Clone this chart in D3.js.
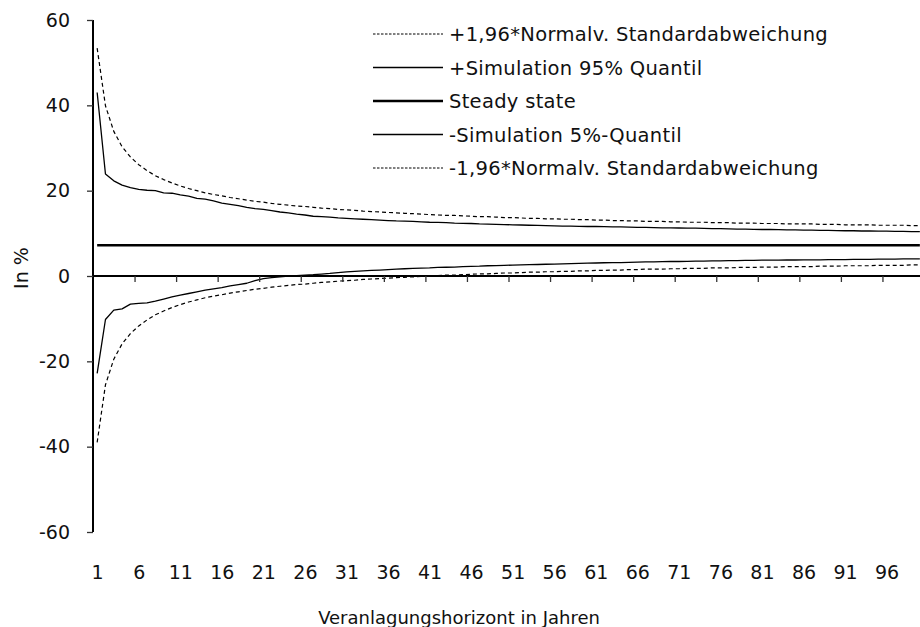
<!DOCTYPE html>
<html>
<head>
<meta charset="utf-8">
<script src="https://cdn.jsdelivr.net/npm/d3@7"></script>
<style>
  html, body { margin: 0; padding: 0; background: #fff; }
  svg { display: block; }
  text { font-family: "DejaVu Sans", sans-serif; fill: #111; }
</style>
</head>
<body>
<svg id="chart" width="920" height="627"></svg>
<script>
// Investment horizon in years (1..100)
const years = d3.range(1, 101);

// +1.96 * normal standard deviation band
const upperNormal = [53.4,39.9,33.9,30.3,27.9,26.1,24.7,23.5,22.6,21.8,21.1,20.5,20.0,19.5,19.1,18.8,18.4,18.1,17.8,17.5,
  17.3,17.0,16.8,16.6,16.4,16.3,16.1,15.9,15.8,15.6,15.5,15.4,15.2,15.1,15.0,14.9,14.8,14.7,14.6,14.5,
  14.4,14.3,14.2,14.2,14.1,14.0,13.9,13.9,13.8,13.7,13.7,13.6,13.5,13.5,13.4,13.4,13.3,13.3,13.2,13.2,
  13.1,13.1,13.0,13.0,12.9,12.9,12.8,12.8,12.8,12.7,12.7,12.6,12.6,12.6,12.5,12.5,12.5,12.4,12.4,12.4,
  12.3,12.3,12.3,12.2,12.2,12.2,12.2,12.1,12.1,12.1,12.0,12.0,12.0,12.0,11.9,11.9,11.9,11.9,11.8,11.8];

// Simulated 95% quantile
const upperSim = [43.0,23.9,22.3,21.3,20.7,20.3,20.1,20.0,19.5,19.4,19.0,18.7,18.2,18.0,17.6,17.1,16.8,16.5,16.1,15.8,
  15.6,15.3,15.0,14.8,14.5,14.3,14.0,13.9,13.8,13.6,13.5,13.4,13.3,13.2,13.1,13.0,12.9,12.85,12.8,12.7,
  12.6,12.55,12.5,12.4,12.35,12.3,12.2,12.15,12.1,12.05,12.0,11.95,11.9,11.85,11.8,11.75,11.7,11.7,11.65,11.6,
  11.6,11.55,11.5,11.5,11.45,11.4,11.4,11.35,11.3,11.3,11.25,11.2,11.2,11.15,11.1,11.1,11.05,11.0,11.0,10.95,
  10.9,10.9,10.85,10.8,10.8,10.75,10.75,10.7,10.7,10.65,10.6,10.6,10.55,10.55,10.5,10.5,10.45,10.45,10.4,10.4];

// Steady state return
const steadyState = years.map(() => 7.2);

// Simulated 5% quantile
const lowerSim = [-22.8,-10.2,-8.0,-7.7,-6.6,-6.4,-6.3,-5.9,-5.4,-4.9,-4.5,-4.1,-3.7,-3.3,-3.0,-2.7,-2.3,-2.0,-1.7,-1.1,
  -0.6,-0.4,-0.2,0.0,0.1,0.2,0.3,0.45,0.6,0.8,0.95,1.1,1.2,1.3,1.4,1.5,1.6,1.7,1.8,1.85,
  1.9,2.0,2.05,2.1,2.2,2.25,2.3,2.4,2.45,2.5,2.55,2.6,2.65,2.7,2.75,2.8,2.85,2.9,2.95,3.0,
  3.05,3.1,3.15,3.15,3.2,3.25,3.3,3.3,3.35,3.4,3.4,3.45,3.5,3.5,3.55,3.55,3.6,3.6,3.65,3.65,
  3.7,3.7,3.7,3.75,3.75,3.8,3.8,3.8,3.85,3.85,3.85,3.9,3.9,3.9,3.95,3.95,3.95,4.0,4.0,4.0];

// -1.96 * normal standard deviation band
const lowerNormal = [-39.0,-25.5,-19.5,-15.9,-13.5,-11.7,-10.3,-9.1,-8.2,-7.4,-6.7,-6.1,-5.6,-5.1,-4.7,-4.4,-4.0,-3.7,-3.4,-3.1,
  -2.9,-2.6,-2.4,-2.2,-2.0,-1.9,-1.7,-1.5,-1.4,-1.2,-1.1,-1.0,-0.8,-0.7,-0.6,-0.5,-0.4,-0.3,-0.2,-0.1,
  0.0,0.1,0.2,0.2,0.3,0.4,0.5,0.5,0.6,0.7,0.7,0.8,0.9,0.9,1.0,1.0,1.1,1.1,1.2,1.2,
  1.3,1.3,1.4,1.4,1.5,1.5,1.6,1.6,1.6,1.7,1.7,1.8,1.8,1.8,1.9,1.9,1.9,2.0,2.0,2.0,
  2.1,2.1,2.1,2.2,2.2,2.2,2.2,2.3,2.3,2.3,2.4,2.4,2.4,2.4,2.5,2.5,2.5,2.5,2.6,2.6];

const yTicks = [-60, -40, -20, 0, 20, 40, 60];
const xLabelYears = d3.range(1, 101, 5);
const xTickBounds = d3.range(5, 100, 5).map(v => v + 0.5);

const seriesNames = [
  "+1,96*Normalv. Standardabweichung",
  "+Simulation 95% Quantil",
  "Steady state",
  "-Simulation 5%-Quantil",
  "-1,96*Normalv. Standardabweichung"
];
const seriesData = [upperNormal, upperSim, steadyState, lowerSim, lowerNormal];
const seriesStyle = [
  { width: 1.2, dash: "4,3", legendDash: "2.5,1.5", legendWidth: 1 },
  { width: 1.3, dash: null },
  { width: 2.4, dash: null },
  { width: 1.3, dash: null },
  { width: 1.2, dash: "4,3", legendDash: "2.5,1.5", legendWidth: 1 }
];

const svg = d3.select("#chart");
const plotLeft = 93, plotTop = 20, plotBottom = 532, catWidth = 8.31;
const plotRight = plotLeft + catWidth * years.length;

const y = d3.scaleLinear().domain([-60, 60]).range([plotBottom, plotTop]);
const xPos = d3.scaleLinear().domain([0.5, years.length + 0.5]).range([plotLeft, plotRight]);

// Series lines
const line = d3.line().x((d, i) => xPos(years[i])).y(d => y(d));
seriesData.forEach((data, k) => {
  const st = seriesStyle[k];
  svg.append("path")
    .datum(data)
    .attr("fill", "none")
    .attr("stroke", "#000")
    .attr("stroke-width", st.width)
    .attr("stroke-dasharray", st.dash)
    .attr("stroke-linejoin", "round")
    .attr("d", line);
});

// Y axis (plain hyphen for negative labels)
const yAxis = svg.append("g")
  .attr("transform", `translate(${plotLeft},0)`)
  .call(d3.axisLeft(y).tickValues(yTicks).tickSize(6).tickPadding(17).tickFormat(d => String(d)));
yAxis.select(".domain").attr("stroke", "#000").attr("stroke-width", 2).attr("d", `M0,${plotTop}V${plotBottom}`);
yAxis.selectAll(".tick line").attr("stroke", "#333").attr("stroke-width", 1.3);
yAxis.selectAll(".tick text").style("font-size", "19px").attr("font-family", null);

// X axis at zero: tick marks at every fifth category boundary
const xAxis = svg.append("g")
  .attr("transform", `translate(0,${y(0)})`)
  .call(d3.axisBottom(xPos).tickValues(xTickBounds).tickSize(6).tickFormat(""));
xAxis.select(".domain").attr("stroke", "#000").attr("stroke-width", 2).attr("d", `M${plotLeft},0H${plotRight}`);
xAxis.selectAll(".tick line").attr("stroke", "#333").attr("stroke-width", 1.3);

// X category labels along the bottom
const xLabels = svg.append("g")
  .attr("transform", `translate(0,${plotBottom + 33})`)
  .call(d3.axisBottom(xPos).tickValues(xLabelYears).tickSize(0).tickPadding(0).tickFormat(d => String(d)));
xLabels.select(".domain").remove();
xLabels.selectAll(".tick text").style("font-size", "19px").attr("font-family", null);

// Axis titles
svg.append("text")
  .attr("x", 459).attr("y", 624)
  .attr("text-anchor", "middle")
  .style("font-size", "18px")
  .text("Veranlagungshorizont in Jahren");
svg.append("text")
  .attr("transform", `translate(28,${y(0) - 8}) rotate(-90)`)
  .attr("text-anchor", "middle")
  .style("font-size", "19px")
  .text("In %");

// Legend
const legend = svg.append("g");
seriesNames.forEach((name, k) => {
  const st = seriesStyle[k];
  const ly = 34 + k * 33.5;
  legend.append("line")
    .attr("x1", 373).attr("x2", 443).attr("y1", ly).attr("y2", ly)
    .attr("stroke", "#000")
    .attr("stroke-width", st.legendWidth || st.width)
    .attr("stroke-dasharray", st.legendDash || null);
  legend.append("text")
    .attr("x", 449).attr("y", ly).attr("dy", "0.36em")
    .style("font-size", "19.5px")
    .style("letter-spacing", "0.3px")
    .text(name);
});
</script>
</body>
</html>
